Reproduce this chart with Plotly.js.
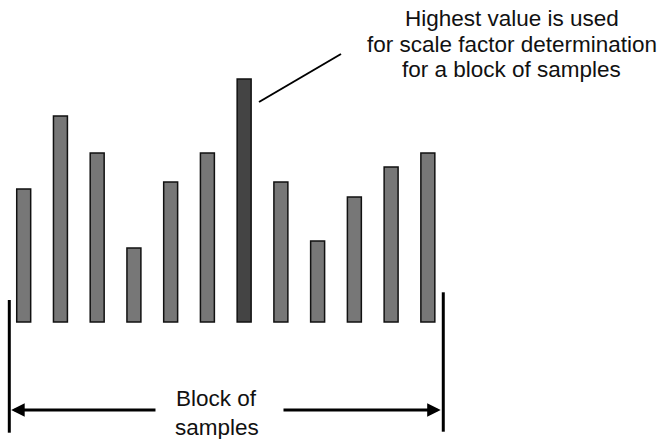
<!DOCTYPE html>
<html>
<head>
<meta charset="utf-8">
<script src="https://cdn.plot.ly/plotly-3.0.1.min.js"></script>
<style>html,body{margin:0;padding:0;background:#fff;}#chart{width:671px;height:439px;}</style>
</head>
<body>
<div id="chart"></div>
<script>
// Sample indices and their values (bar heights, arbitrary units)
const samples = [1, 2, 3, 4, 5, 6, 7, 8, 9, 10, 11, 12];
const values = [133, 206, 169, 74, 140, 169, 243, 140, 81, 125, 155, 169];
const highestIndex = values.indexOf(Math.max(...values));
const noteLines = ["Highest value is used", "for scale factor determination", "for a block of samples"];
const blockLines = ["Block of", "samples"];

const colors = values.map((v, i) => i === highestIndex ? '#444444' : '#777777');

const trace = {
  type: 'bar',
  x: samples,
  y: values,
  width: 0.38,
  marker: { color: colors, line: { color: '#111111', width: 1.5 } },
  hoverinfo: 'skip'
};

const font = { family: 'Liberation Sans, Arial, sans-serif', size: 22.5, color: '#111111' };
const noteX = 14.277;
const noteY = [303.3, 277.8, 252.3];
const blockX = 6.253;
const blockY = [-76.2, -105.2];

const annotations = [];
noteLines.forEach((t, i) => annotations.push({
  x: noteX, y: noteY[i], xref: 'x', yref: 'y', text: t, showarrow: false,
  xanchor: 'center', yanchor: 'middle', borderpad: 0, font: font
}));
blockLines.forEach((t, i) => annotations.push({
  x: blockX, y: blockY[i], xref: 'x', yref: 'y', text: t, showarrow: false,
  xanchor: 'center', yanchor: 'middle', borderpad: 0, font: font
}));
// double-headed span arrow, split around the label
annotations.push({
  x: 0.66, y: -88, ax: 4.628, ay: -88, xref: 'x', yref: 'y', axref: 'x', ayref: 'y',
  text: '', showarrow: true, arrowhead: 2, arrowsize: 0.9, arrowwidth: 3, arrowcolor: '#000000'
});
annotations.push({
  x: 12.35, y: -88, ax: 8.03, ay: -88, xref: 'x', yref: 'y', axref: 'x', ayref: 'y',
  text: '', showarrow: true, arrowhead: 2, arrowsize: 0.9, arrowwidth: 3, arrowcolor: '#000000'
});

const shapes = [
  { type: 'line', xref: 'x', yref: 'y', x0: 0.608, x1: 0.608, y0: 22, y1: -110.7, line: { color: '#000000', width: 3 } },
  { type: 'line', xref: 'x', yref: 'y', x0: 12.42, x1: 12.42, y0: 29.7, y1: -109.7, line: { color: '#000000', width: 3 } },
  { type: 'line', xref: 'x', yref: 'y', x0: 7.405, y0: 220, x1: 9.636, y1: 268, line: { color: '#000000', width: 2 } }
];

const layout = {
  width: 671, height: 439,
  margin: { l: 0, r: 0, t: 0, b: 0, pad: 0 },
  paper_bgcolor: '#ffffff', plot_bgcolor: '#ffffff',
  showlegend: false,
  xaxis: { range: [0.355, 18.618], visible: false, fixedrange: true },
  yaxis: { range: [-117, 322], visible: false, fixedrange: true },
  annotations: annotations,
  shapes: shapes
};

Plotly.newPlot('chart', [trace], layout, { displayModeBar: false, staticPlot: true });
</script>
</body>
</html>
